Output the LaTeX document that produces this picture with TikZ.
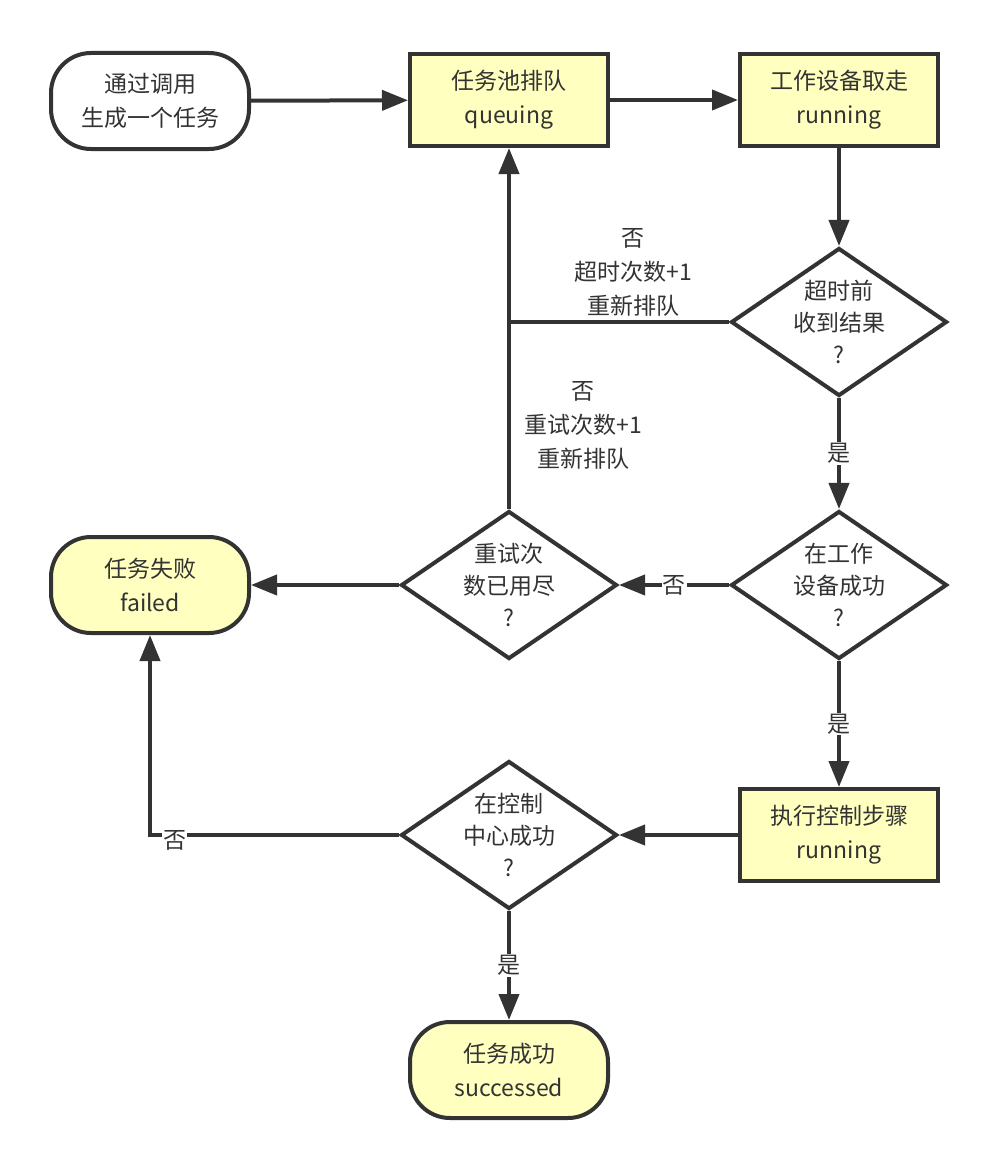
\documentclass[tikz,border=0pt]{standalone}
\usepackage{fontspec}
\setmainfont{Noto Sans CJK SC}
\usetikzlibrary{shapes.geometric,arrows.meta}
\definecolor{ln}{HTML}{333333}
\definecolor{yl}{HTML}{FFFFC0}
\begin{document}
\begin{tikzpicture}[x=1pt,y=-1pt,
 every node/.style={font=\fontsize{23}{34}\selectfont, text=ln, align=center},
 proc/.style={draw=ln, line width=4pt, fill=yl, minimum width=198pt, minimum height=92pt, inner sep=0pt},
 term/.style={draw=ln, line width=4pt, rounded corners=40pt, minimum width=198pt, minimum height=96pt, inner sep=0pt},
 dec/.style={diamond, draw=ln, line width=4pt, fill=white, minimum width=216pt, minimum height=148pt, inner sep=0pt, label={[font=\fontsize{23}{32}\selectfont, text=ln, align=center]center:#1}},
 conn/.style={draw=ln, line width=4pt},
 arr/.style={conn, -{Triangle[length=26pt,width=20pt]}},
 lbl/.style={fill=white, inner sep=1pt},
]
\useasboundingbox[fill=white] (0,0) rectangle (998,1172);

\node[term, fill=white] (start) at (150,101) {通过调用\\生成一个任务};
\node[proc] (queue) at (509,100) {任务池排队\\queuing};
\node[proc] (work) at (839,100) {工作设备取走\\running};
\node[dec={超时前\\收到结果\\?}] (d1) at (839,322) {};
\node[dec={在工作\\设备成功\\?}] (d2) at (839,585) {};
\node[dec={重试次\\数已用尽\\?}] (d3) at (509,585) {};
\node[term, fill=yl] (failed) at (150,585) {任务失败\\failed};
\node[proc] (exec) at (839,835) {执行控制步骤\\running};
\node[dec={在控制\\中心成功\\?}] (d4) at (509,835) {};
\node[term, fill=yl] (succ) at (509,1070) {任务成功\\successed};

\coordinate (j) at (509,322);

\draw[arr] (start) -- (queue);
\draw[arr] (queue) -- (work);
\draw[arr] (work) -- (d1);
\draw[conn] (d1.west) -- (j);
\draw[arr] (d3.north) -- (queue.south);
\draw[arr] (d1) -- node[lbl] {是} (d2);
\draw[arr] (d2) -- node[lbl] {否} (d3);
\draw[arr] (d3) -- (failed);
\draw[arr] (d2) -- node[lbl] {是} (exec);
\draw[arr] (exec) -- (d4);
\draw[arr] (d4.west) -| node[lbl, pos=0.45, yshift=-5pt] {否} (failed.south);
\draw[arr] (d4) -- node[lbl] {是} (succ);

\node (l1) at (633,272) {否\\超时次数+1\\重新排队};
\node (l2) at (583,425) {否\\重试次数+1\\重新排队};
\end{tikzpicture}
\end{document}
